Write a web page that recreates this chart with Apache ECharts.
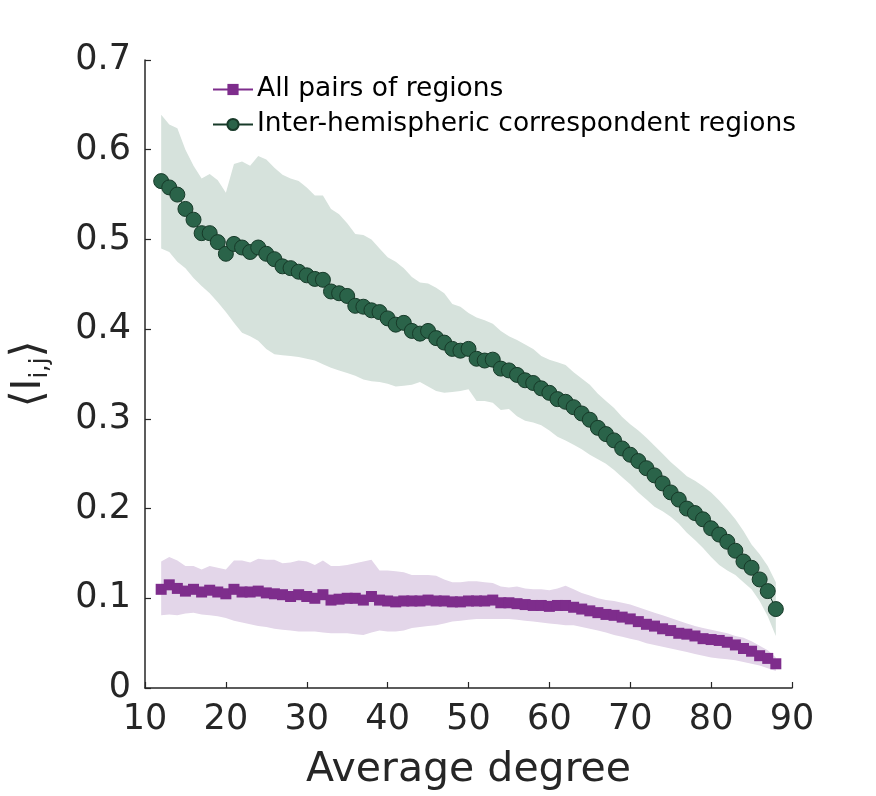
<!DOCTYPE html>
<html>
<head>
<meta charset="utf-8">
<title>Average degree</title>
<script src="https://cdn.jsdelivr.net/npm/echarts@6/dist/echarts.min.js"></script>
<style>
  html, body { margin: 0; padding: 0; background: #fff; }
  #chart { width: 876px; height: 796px; }
</style>
</head>
<body>
<div id="chart"></div>
<script>
// average degree, 12 .. 88
var degrees = [];
for (var d = 12; d <= 88; d++) degrees.push(d);

// All pairs of regions (mean, band)
var pairsMean = [
  0.110, 0.115, 0.111, 0.108, 0.110, 0.107, 0.109, 0.107, 0.105, 0.110,
  0.107, 0.107, 0.108, 0.106, 0.105, 0.104, 0.102, 0.104, 0.102, 0.100,
  0.104, 0.098, 0.099, 0.100, 0.100, 0.098, 0.102, 0.098, 0.097, 0.096,
  0.097, 0.097, 0.097, 0.098, 0.097, 0.097, 0.096, 0.096, 0.097, 0.097,
  0.097, 0.098, 0.095, 0.095, 0.094, 0.093, 0.092, 0.092, 0.091, 0.092,
  0.092, 0.090, 0.088, 0.086, 0.084, 0.082, 0.081, 0.079, 0.077, 0.074,
  0.071, 0.069, 0.066, 0.064, 0.061, 0.060, 0.058, 0.055, 0.054, 0.053,
  0.051, 0.048, 0.044, 0.041, 0.036, 0.033, 0.027
];
var pairsUpper = [
  0.141, 0.146, 0.142, 0.136, 0.136, 0.132, 0.136, 0.134, 0.132, 0.142,
  0.142, 0.140, 0.144, 0.143, 0.143, 0.139, 0.140, 0.142, 0.141, 0.137,
  0.142, 0.136, 0.136, 0.137, 0.139, 0.141, 0.143, 0.131, 0.131, 0.130,
  0.129, 0.126, 0.126, 0.126, 0.125, 0.121, 0.118, 0.118, 0.119, 0.119,
  0.118, 0.117, 0.113, 0.112, 0.113, 0.111, 0.110, 0.110, 0.109, 0.111,
  0.114, 0.110, 0.106, 0.103, 0.100, 0.098, 0.097, 0.095, 0.093, 0.090,
  0.087, 0.084, 0.081, 0.078, 0.075, 0.072, 0.069, 0.067, 0.065, 0.063,
  0.061, 0.058, 0.056, 0.052, 0.047, 0.042, 0.034
];
var pairsLower = [
  0.081, 0.082, 0.081, 0.083, 0.084, 0.082, 0.081, 0.080, 0.078, 0.075,
  0.073, 0.071, 0.069, 0.068, 0.066, 0.065, 0.064, 0.063, 0.063, 0.063,
  0.062, 0.061, 0.061, 0.061, 0.060, 0.059, 0.062, 0.064, 0.063, 0.063,
  0.064, 0.067, 0.068, 0.069, 0.070, 0.072, 0.074, 0.075, 0.076, 0.077,
  0.077, 0.077, 0.077, 0.077, 0.076, 0.075, 0.074, 0.073, 0.072, 0.071,
  0.070, 0.070, 0.068, 0.066, 0.064, 0.062, 0.059, 0.057, 0.055, 0.053,
  0.050, 0.048, 0.046, 0.044, 0.042, 0.040, 0.038, 0.036, 0.034, 0.033,
  0.032, 0.031, 0.029, 0.027, 0.025, 0.022, 0.019
];

// Inter-hemispheric correspondent regions (mean, band)
var interMean = [
  0.565, 0.558, 0.550, 0.534, 0.522, 0.507, 0.507, 0.497, 0.484, 0.495,
  0.491, 0.486, 0.491, 0.484, 0.478, 0.470, 0.468, 0.464, 0.460, 0.456,
  0.455, 0.442, 0.440, 0.437, 0.426, 0.425, 0.421, 0.419, 0.412, 0.405,
  0.407, 0.398, 0.395, 0.398, 0.390, 0.385, 0.378, 0.376, 0.378, 0.367,
  0.365, 0.366, 0.356, 0.354, 0.349, 0.343, 0.340, 0.334, 0.329, 0.322,
  0.319, 0.313, 0.306, 0.299, 0.290, 0.283, 0.276, 0.267, 0.260, 0.253,
  0.245, 0.237, 0.228, 0.218, 0.210, 0.200, 0.195, 0.188, 0.178, 0.171,
  0.163, 0.153, 0.141, 0.134, 0.121, 0.108, 0.088
];
var interUpper = [
  0.639, 0.628, 0.624, 0.600, 0.582, 0.568, 0.573, 0.566, 0.552, 0.584,
  0.587, 0.582, 0.593, 0.589, 0.580, 0.572, 0.568, 0.565, 0.558, 0.549,
  0.549, 0.534, 0.528, 0.518, 0.506, 0.505, 0.500, 0.490, 0.480, 0.475,
  0.468, 0.458, 0.452, 0.451, 0.446, 0.440, 0.428, 0.425, 0.418, 0.413,
  0.410, 0.406, 0.398, 0.392, 0.388, 0.383, 0.378, 0.370, 0.366, 0.363,
  0.360, 0.352, 0.345, 0.338, 0.328, 0.320, 0.312, 0.302, 0.294, 0.287,
  0.279, 0.270, 0.261, 0.252, 0.244, 0.236, 0.231, 0.225, 0.218, 0.209,
  0.199, 0.188, 0.175, 0.160, 0.149, 0.136, 0.118
];
var interLower = [
  0.490, 0.486, 0.475, 0.468, 0.457, 0.448, 0.440, 0.430, 0.419, 0.407,
  0.396, 0.392, 0.387, 0.378, 0.372, 0.371, 0.370, 0.369, 0.367, 0.365,
  0.361, 0.357, 0.354, 0.351, 0.348, 0.344, 0.342, 0.341, 0.339, 0.336,
  0.337, 0.338, 0.341, 0.336, 0.331, 0.329, 0.330, 0.331, 0.333, 0.320,
  0.320, 0.318, 0.310, 0.311, 0.303, 0.298, 0.296, 0.293, 0.287, 0.280,
  0.276, 0.271, 0.266, 0.260, 0.255, 0.250, 0.243, 0.235, 0.227, 0.218,
  0.210, 0.202, 0.197, 0.191, 0.183, 0.173, 0.165, 0.156, 0.146, 0.137,
  0.131, 0.126, 0.118, 0.110, 0.097, 0.080, 0.058
];

var FONT = 'DejaVu Sans';
var INK = '#262626';

function zip(xs, ys) {
  return xs.map(function (x, i) { return [x, ys[i]]; });
}

// shaded band between lower and upper, drawn through the axis scales
function band(name, upper, lower, color) {
  return {
    type: 'custom',
    name: name,
    z: 1,
    silent: true,
    data: [[degrees[0], lower[0]]],
    renderItem: function (params, api) {
      var pts = [];
      for (var i = 0; i < degrees.length; i++) pts.push(api.coord([degrees[i], upper[i]]));
      for (var j = degrees.length - 1; j >= 0; j--) pts.push(api.coord([degrees[j], lower[j]]));
      return { type: 'polygon', shape: { points: pts }, style: { fill: color } };
    }
  };
}

var chart = echarts.init(document.getElementById('chart'), null, { renderer: 'canvas' });

chart.setOption({
  animation: false,
  backgroundColor: '#fff',
  textStyle: { fontFamily: FONT },
  grid: { left: 142, right: 84, top: 60, bottom: 105 },
  legend: {
    data: ['All pairs of regions', 'Inter-hemispheric correspondent regions'],
    orient: 'vertical',
    left: 212,
    top: 76,
    padding: 0,
    itemWidth: 40,
    itemHeight: 14,
    itemGap: 8,
    textStyle: { fontFamily: FONT, fontSize: 26.5, color: '#000', padding: [0, 0, 0, -1] }
  },
  xAxis: {
    type: 'value',
    min: 10, max: 90, interval: 10,
    name: 'Average degree',
    nameLocation: 'middle',
    nameGap: 62,
    nameTextStyle: { fontFamily: FONT, fontSize: 41, color: INK },
    axisLine: { lineStyle: { color: INK, width: 1.5 } },
    axisTick: { inside: true, length: 6, lineStyle: { color: INK, width: 1.2 } },
    axisLabel: { fontFamily: FONT, fontSize: 35, color: INK, margin: 14 },
    splitLine: { show: false }
  },
  yAxis: {
    type: 'value',
    min: 0, max: 0.7, interval: 0.1,
    name: '{a|\u27E8}{b|I}{s|i,j}{a|\u27E9}',
    nameLocation: 'middle',
    nameRotate: 90,
    nameGap: 92,
    nameTextStyle: {
      rich: {
        a: { fontFamily: FONT, fontSize: 44, color: INK },
        b: { fontFamily: FONT, fontSize: 40, color: INK },
        s: { fontFamily: FONT, fontSize: 24, color: INK, padding: [22, 0, 0, 0] }
      }
    },
    axisLine: { show: true, lineStyle: { color: INK, width: 1.5 } },
    axisTick: { show: true, inside: true, length: 6, lineStyle: { color: INK, width: 1.2 } },
    axisLabel: {
      fontFamily: FONT, fontSize: 35, color: INK, margin: 14,
      formatter: function (v) { return v === 0 ? '0' : v.toFixed(1); }
    },
    splitLine: { show: false }
  },
  series: [
    band('pairsBand', pairsUpper, pairsLower, '#e3d6e9'),
    band('interBand', interUpper, interLower, '#d6e2dc'),
    {
      name: 'All pairs of regions',
      type: 'line',
      z: 3,
      data: zip(degrees, pairsMean),
      symbol: 'rect',
      symbolSize: 11,
      showAllSymbol: true,
      itemStyle: { color: '#7e2d8c' },
      lineStyle: { color: '#7e2d8c', width: 1 }
    },
    {
      name: 'Inter-hemispheric correspondent regions',
      type: 'line',
      z: 4,
      data: zip(degrees, interMean),
      symbol: 'circle',
      symbolSize: 15,
      showAllSymbol: true,
      itemStyle: { color: '#2a6349', borderColor: '#173a29', borderWidth: 1 },
      lineStyle: { color: '#173a29', width: 1 }
    }
  ]
});
</script>
</body>
</html>
